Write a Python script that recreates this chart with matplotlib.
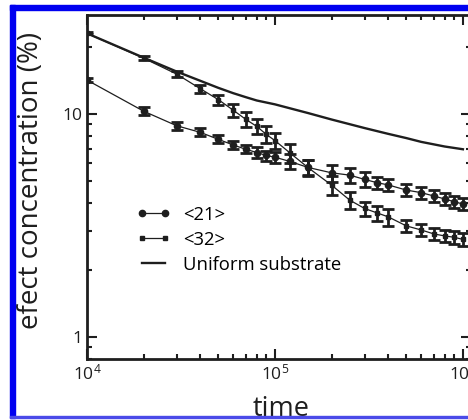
import numpy as np
import matplotlib
matplotlib.use('Agg')
import matplotlib.pyplot as plt
from matplotlib.patches import Rectangle
from matplotlib.ticker import LogLocator, FuncFormatter, NullFormatter

plt.rcParams['font.family'] = ['Open Sans', 'DejaVu Sans']
plt.rcParams['mathtext.fontset'] = 'custom'
plt.rcParams['mathtext.rm'] = 'Open Sans'
plt.rcParams['mathtext.default'] = 'regular'

# time grid of the simulation runs
time = [1e4, 2e4, 3e4, 4e4, 5e4, 6e4, 7e4, 8e4, 9e4, 1e5, 1.2e5, 1.5e5, 2e5,
        2.5e5, 3e5, 3.5e5, 4e5, 5e5, 6e5, 7e5, 8e5, 9e5, 1e6]

# <21> defects
c21 = [14.2, 10.3, 8.86, 8.28, 7.7, 7.26, 6.95, 6.72, 6.52, 6.4, 6.13, 5.76, 5.45,
       5.32, 5.09, 4.92, 4.81, 4.56, 4.44, 4.29, 4.16, 4.04, 3.95]
e21 = [0.30, 0.43, 0.37, 0.35, 0.32, 0.30, 0.29, 0.36, 0.34, 0.34, 0.46, 0.43, 0.47,
       0.40, 0.38, 0.31, 0.31, 0.29, 0.28, 0.27, 0.27, 0.26, 0.25]

# <32> defects
c32 = [23.0, 17.8, 15.1, 13.0, 11.6, 10.4, 9.46, 8.8, 8.1, 7.6, 6.7, 5.75, 4.8,
       4.11, 3.77, 3.6, 3.46, 3.15, 3.02, 2.9, 2.84, 2.80, 2.74]
e32 = [0.24, 0.37, 0.47, 0.55, 0.61, 0.67, 0.71, 0.66, 0.70, 0.65, 0.65, 0.49, 0.47,
       0.35, 0.28, 0.27, 0.30, 0.20, 0.19, 0.19, 0.18, 0.18, 0.18]

# uniform substrate
t_uni = [1e4, 2e4, 3e4, 4e4, 5e4, 6e4, 7e4, 8e4, 1e5, 1.5e5, 2e5, 3e5, 4e5, 5e5,
         6e5, 8e5, 1e6]
c_uni = [23.0, 17.9, 15.5, 14.1, 13.1, 12.4, 11.9, 11.5, 11.05, 10.1, 9.45, 8.65,
         8.15, 7.8, 7.5, 7.15, 6.95]

col = '#1e1e1e'

fig = plt.figure(figsize=(4.68, 4.2), dpi=100)
ax = fig.add_axes([87/468, 1-359/420, (470.7-87)/468, (359-15)/420])

for y, e in [(c21, e21), (c32, e32)]:
    ax.errorbar(time, y, yerr=e, fmt='none', ecolor=col, elinewidth=2,
                capsize=4, capthick=2, zorder=3)
ax.plot(time, c21, '-o', color=col, lw=0.9, ms=4.5, label='<21>', zorder=4)
ax.plot(time, c32, '-s', color=col, lw=0.9, ms=3.5, label='<32>', zorder=4)
ax.plot(t_uni, c_uni, '-', color=col, lw=1.7, label='Uniform substrate', zorder=4)

ax.set_xscale('log')
ax.set_yscale('log')
ax.set_xlim(1e4, 1.1e6)
ax.set_ylim(0.797, 27.8)

ax.xaxis.set_major_locator(LogLocator(base=10, numticks=10))
ax.xaxis.set_minor_locator(LogLocator(base=10, subs=np.arange(2, 10), numticks=20))
ax.xaxis.set_major_formatter(FuncFormatter(lambda v, p: r'$10^{%d}$' % round(np.log10(v))))
ax.xaxis.set_minor_formatter(NullFormatter())
ax.yaxis.set_major_locator(LogLocator(base=10, numticks=10))
ax.yaxis.set_minor_locator(LogLocator(base=10, subs=np.arange(2, 10), numticks=20))
ax.yaxis.set_major_formatter(FuncFormatter(lambda v, p: '%g' % v))
ax.yaxis.set_minor_formatter(NullFormatter())

ax.tick_params(which='both', direction='in', top=True, right=True, color=col,
               width=1.5, labelsize=12.5, pad=3, labelcolor=col)
ax.tick_params(which='major', length=7)
ax.tick_params(which='minor', length=3.5)
for s in ax.spines.values():
    s.set_linewidth(2)
    s.set_color(col)

ax.legend(loc='upper left', bbox_to_anchor=(0.13, 0.445), frameon=False,
          fontsize=13.3, numpoints=2, handlelength=1.8, handletextpad=0.7,
          labelspacing=0.38, borderpad=0, borderaxespad=0)

fig.text(31/468, 1-180/420, 'efect concentration (%)', rotation=90, fontsize=20,
         ha='center', va='center', color=col)
fig.text(281/468, 1-416/420, 'time', fontsize=19.5, ha='center', va='baseline', color=col)

# blue frame around the panel
blue = '#0000f0'
fig.add_artist(Rectangle((10/468, 1-418/420), 5/468, 413/420, transform=fig.transFigure,
                         color=blue, zorder=10))
fig.add_artist(Rectangle((10/468, 1-10/420), 458/468, 5/420, transform=fig.transFigure,
                         color=blue, zorder=10))
fig.add_artist(Rectangle((10/468, 1-418/420), 458/468, 2/420, transform=fig.transFigure,
                         color='#4a4ae8', zorder=10))

fig.savefig('out.png', dpi=100)
